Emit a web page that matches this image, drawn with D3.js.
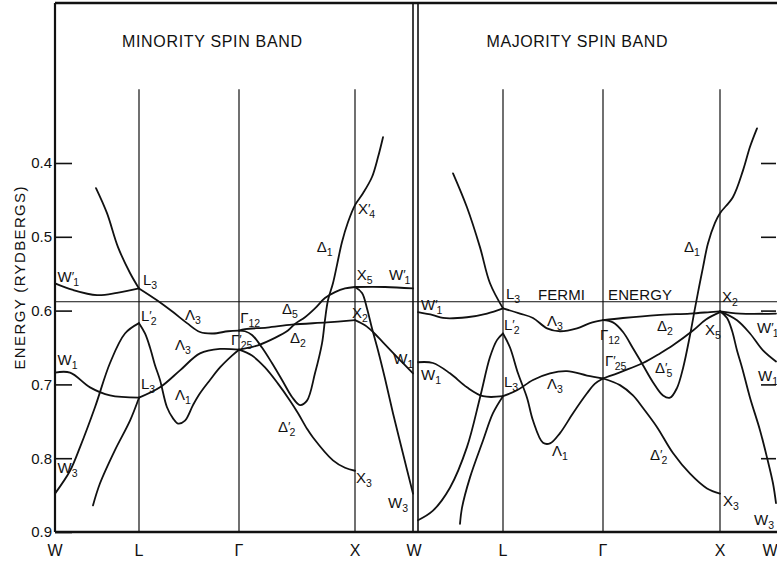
<!DOCTYPE html>
<html>
<head>
<meta charset="utf-8">
<script src="https://cdn.jsdelivr.net/npm/d3@7"></script>
<style>
  html, body { margin: 0; padding: 0; background: #fff; }
  svg { display: block; font-family: "Liberation Sans", Arial, sans-serif; }
</style>
</head>
<body>
<script>
// ---- data -------------------------------------------------------------
// k-path coordinate: 0 = W, 1 = L, 2 = Γ, 3 = X, 4 = W
const kTicks = [0, 1, 2, 3, 4];
const kLabels = ["W", "L", "Γ", "X", "W"];
const energyTicks = [0.4, 0.5, 0.6, 0.7, 0.8, 0.9];
const fermiEnergy = 0.588;
const panelTitles = ["MINORITY SPIN BAND", "MAJORITY SPIN BAND"];

// Minority spin band pieces: [k, energy (Ry)]
const minorityBands = [
  [[0.488,0.434],[0.619,0.468],[0.750,0.514],[0.893,0.549],[1,0.570]],
  [[0,0.563],[0.214,0.572],[0.5,0.579],[0.738,0.576],[1,0.570]],
  [[1,0.570],[1.18,0.586],[1.34,0.602],[1.48,0.617],[1.61,0.629],[1.74,0.631],[1.89,0.628],[2,0.627]],
  [[2,0.627],[2.052,0.625],[2.241,0.623],[2.457,0.619],[2.759,0.616],[3,0.613]],
  [[3,0.613],[3.172,0.620],[3.31,0.629],[3.483,0.643],[3.776,0.667],[4,0.685]],
  [[2,0.627],[2.052,0.628],[2.112,0.633],[2.198,0.650],[2.284,0.671],[2.371,0.694],[2.457,0.717],[2.526,0.728],[2.586,0.722],[2.655,0.685],[2.716,0.644],[2.741,0.613],[2.767,0.586],[2.81,0.563],[2.845,0.538],[2.888,0.507],[2.94,0.480],[3,0.457],[3.138,0.441],[3.293,0.419],[3.397,0.392],[3.483,0.365]],
  [[2,0.653],[2.164,0.647],[2.31,0.637],[2.422,0.627],[2.483,0.618],[2.569,0.609],[2.655,0.597],[2.741,0.583],[2.828,0.575],[2.914,0.570],[3,0.568]],
  [[3,0.568],[3.517,0.568],[4,0.570]],
  [[3,0.568],[3.121,0.576],[3.207,0.597],[3.293,0.624],[3.397,0.654],[3.517,0.692],[3.655,0.739],[3.828,0.794],[4,0.848]],
  [[2,0.653],[2.112,0.661],[2.224,0.677],[2.336,0.699],[2.440,0.722],[2.509,0.739],[2.586,0.760],[2.638,0.772],[2.81,0.803],[2.914,0.813],[3,0.817]],
  [[0,0.684],[0.179,0.684],[0.417,0.704],[0.655,0.715],[1,0.718]],
  [[1,0.718],[1.21,0.704],[1.41,0.681],[1.61,0.658],[1.81,0.652],[2,0.653]],
  [[0,0.848],[0.179,0.817],[0.298,0.785],[0.476,0.731],[0.655,0.671],[0.833,0.631],[1,0.617]],
  [[1,0.617],[1.06,0.631],[1.11,0.650],[1.16,0.674],[1.21,0.694],[1.28,0.731],[1.34,0.746],[1.39,0.753],[1.46,0.749],[1.54,0.728],[1.61,0.712],[1.71,0.694],[1.81,0.677],[1.93,0.661],[2,0.653]],
  [[0.452,0.864],[0.536,0.834],[0.714,0.789],[0.893,0.749],[1,0.718]]
];

// Majority spin band pieces: [k, energy (Ry)]
const majorityBands = [
  [[0.412,0.414],[0.576,0.460],[0.729,0.514],[0.847,0.563],[1,0.597]],
  [[0,0.602],[0.176,0.606],[0.294,0.610],[0.576,0.609],[0.812,0.604],[1,0.597]],
  [[1,0.597],[1.17,0.604],[1.30,0.610],[1.44,0.624],[1.57,0.628],[1.74,0.624],[1.87,0.617],[2,0.613]],
  [[2,0.613],[2.171,0.610],[2.462,0.606],[2.744,0.604],[2.915,0.602],[3,0.601]],
  [[3,0.601],[3.357,0.604],[4,0.604]],
  [[3,0.601],[3.304,0.613],[3.536,0.631],[3.768,0.654],[4,0.669]],
  [[3,0.601],[3.125,0.610],[3.214,0.627],[3.304,0.654],[3.393,0.677],[3.536,0.718],[3.714,0.762],[3.839,0.799],[3.946,0.834],[4,0.861]],
  [[2,0.613],[2.085,0.616],[2.171,0.629],[2.256,0.651],[2.342,0.674],[2.427,0.697],[2.513,0.715],[2.573,0.718],[2.632,0.705],[2.684,0.678],[2.744,0.633],[2.786,0.597],[2.821,0.568],[2.855,0.541],[2.897,0.509],[2.957,0.481],[3,0.468],[3.232,0.446],[3.411,0.410],[3.536,0.378],[3.661,0.353]],
  [[2,0.692],[2.171,0.682],[2.342,0.671],[2.487,0.658],[2.598,0.647],[2.769,0.627],[2.88,0.612],[3,0.602]],
  [[2,0.692],[2.145,0.701],[2.256,0.715],[2.342,0.732],[2.462,0.758],[2.598,0.793],[2.744,0.821],[2.889,0.841],[3,0.848]],
  [[0,0.670],[0.176,0.671],[0.376,0.685],[0.576,0.704],[0.765,0.716],[1,0.716]],
  [[1,0.716],[1.14,0.708],[1.30,0.694],[1.47,0.685],[1.64,0.682],[1.84,0.688],[2,0.692]],
  [[0,0.884],[0.176,0.871],[0.376,0.840],[0.576,0.785],[0.729,0.718],[0.847,0.663],[0.929,0.640],[1,0.631]],
  [[1,0.631],[1.07,0.650],[1.15,0.685],[1.24,0.718],[1.30,0.749],[1.40,0.779],[1.47,0.780],[1.57,0.766],[1.70,0.739],[1.84,0.712],[1.92,0.699],[2,0.692]],
  [[0.494,0.889],[0.518,0.867],[0.612,0.826],[0.765,0.776],[0.882,0.739],[1,0.716]]
];

// State labels: [k, energy, symbol, subscript, primed]
const minorityLabels = [
  [0.03,0.5615,"W","1",true],[1.04,0.5655,"L","3",false],[1.02,0.614,"L","2",true],
  [1.46,0.613,"Λ","3",false],[2.01,0.617,"Γ","12",false],[1.36,0.654,"Λ","3",false],
  [1.92,0.647,"Γ","25",true],[0.03,0.674,"W","1",false],[1.02,0.7067,"L","3",false],
  [1.36,0.7216,"Λ","1",false],[0.03,0.8206,"W","3",false],[2.371,0.605,"Δ","5",false],
  [2.974,0.610,"X","2",false],[2.44,0.644,"Δ","2",false],[3.66,0.673,"W","1",false],
  [2.336,0.764,"Δ","2",true],[3.017,0.833,"X","3",false],[3.569,0.868,"W","3",false],
  [3.05,0.469,"X","4",true],[2.67,0.521,"Δ","1",false],[3.03,0.559,"X","5",false],
  [3.586,0.559,"W","1",true]
];
const majorityLabels = [
  [0.035,0.5995,"W","1",true],[1.03,0.5845,"L","3",false],[1.01,0.6266,"L","2",true],
  [1.44,0.621,"Λ","3",false],[0.035,0.6945,"W","1",false],[1.01,0.704,"L","3",false],
  [1.44,0.7067,"Λ","3",false],[1.49,0.7976,"Λ","1",false],[1.97,0.640,"Γ","12",false],
  [2.462,0.627,"Δ","2",false],[2.872,0.633,"X","5",false],[3.036,0.5886,"X","2",false],
  [3.661,0.631,"W","1",true],[2.017,0.6755,"Γ","25",true],[2.444,0.685,"Δ","5",true],
  [3.68,0.696,"W","1",false],[2.402,0.803,"Δ","2",true],[3.054,0.865,"X","3",false],
  [3.607,0.891,"W","3",false],[2.692,0.521,"Δ","1",false]
];
const fermiLabel = [1.35, 0.5859, "FERMI", "ENERGY"];

// ---- layout -----------------------------------------------------------
const W = 777, H = 566;
const svg = d3.select("body").append("svg").attr("width", W).attr("height", H);
const ink = "#111";

const y = d3.scaleLinear().domain([0.4, 0.9]).range([163, 532]);
const xLeft = d3.scaleLinear().domain(kTicks).range([55, 139, 239, 355, 413]);
const xRight = d3.scaleLinear().domain(kTicks).range([418, 503, 603, 720, 776]);

const panels = [
  { x: xLeft, bands: minorityBands, labels: minorityLabels, title: panelTitles[0], titleW: 180, shift: -22 },
  { x: xRight, bands: majorityBands, labels: majorityLabels, title: panelTitles[1], titleW: 181, shift: -20 }
];

// frame
const topY = 3;
svg.append("line").attr("x1", 55).attr("x2", W).attr("y1", topY).attr("y2", topY)
  .attr("stroke", ink).attr("stroke-width", 2.5);
svg.append("line").attr("x1", 55).attr("x2", W).attr("y1", y(0.9)).attr("y2", y(0.9))
  .attr("stroke", ink).attr("stroke-width", 2.5);
[xLeft(0), xLeft(4), xRight(0)].forEach(px => {
  svg.append("line").attr("x1", px).attr("x2", px).attr("y1", topY).attr("y2", y(0.9))
    .attr("stroke", ink).attr("stroke-width", px === xLeft(0) ? 2.2 : 1.6);
});

// left energy axis
const yAxis = d3.axisLeft(y).tickValues(energyTicks).tickSize(-17).tickPadding(3)
  .tickFormat(d3.format(".1f"));
const ga = svg.append("g").attr("transform", `translate(${xLeft(0)},0)`).call(yAxis);
ga.select(".domain").remove();
ga.selectAll(".tick line").attr("stroke", ink).attr("stroke-width", 1.6);
ga.selectAll(".tick text").attr("fill", ink).attr("font-size", 15)
  .attr("font-family", "Liberation Sans, Arial, sans-serif");

// right ticks
const yAxisR = d3.axisRight(y).tickValues(energyTicks.slice(0, 5)).tickSize(-15).tickFormat("");
const gr = svg.append("g").attr("transform", `translate(${xRight(4)},0)`).call(yAxisR);
gr.select(".domain").remove();
gr.selectAll(".tick line").attr("stroke", ink).attr("stroke-width", 1.6);

// axis title
svg.append("text").attr("transform", "translate(25,278) rotate(-90)")
  .attr("text-anchor", "middle").attr("font-size", 15).attr("fill", ink)
  .attr("textLength", 183).attr("lengthAdjust", "spacing")
  .text("ENERGY (RYDBERGS)");

// Fermi level
svg.append("line").attr("x1", xLeft(0)).attr("x2", W)
  .attr("y1", y(fermiEnergy)).attr("y2", y(fermiEnergy))
  .attr("stroke", ink).attr("stroke-width", 1);

const line = d3.line().curve(d3.curveCatmullRom.alpha(0.5));

function drawLabel(g, px, py, base, sub, primed) {
  const t = g.append("text").attr("x", px).attr("y", py).attr("font-size", 15).attr("fill", ink);
  t.append("tspan").text(base);
  if (primed) t.append("tspan").attr("font-size", 13).attr("dy", -1).text("′");
  if (sub) t.append("tspan").attr("font-size", 10.5).attr("dx", primed ? -1 : 0)
    .attr("dy", primed ? 5 : 4).text(sub);
}

panels.forEach((p, pi) => {
  const g = svg.append("g");
  // symmetry lines
  [1, 2, 3].forEach(k => {
    g.append("line").attr("x1", p.x(k)).attr("x2", p.x(k))
      .attr("y1", y(0.3)).attr("y2", y(0.9))
      .attr("stroke", ink).attr("stroke-width", 1.2);
  });
  // title
  const cx = (p.x(0) + p.x(4)) / 2 + p.shift;
  g.append("text").attr("x", cx).attr("y", 47).attr("text-anchor", "middle")
    .attr("font-size", 16).attr("fill", ink)
    .attr("textLength", p.titleW).attr("lengthAdjust", "spacing").text(p.title);
  // k labels
  kTicks.forEach((k, i) => {
    if (pi === 1 && i === 0) return;
    let px = p.x(k);
    if (pi === 0 && i === 4) px += 1;
    if (pi === 1 && i === 4) px -= 6;
    g.append("text").attr("x", px).attr("y", 556)
      .attr("text-anchor", "middle").attr("font-size", 16).attr("fill", ink).text(kLabels[i]);
  });
  // bands
  p.bands.forEach(b => {
    g.append("path").attr("d", line(b.map(d => [p.x(d[0]), y(d[1])])))
      .attr("fill", "none").attr("stroke", ink).attr("stroke-width", 1.8)
      .attr("stroke-linejoin", "round").attr("stroke-linecap", "round");
  });
  // state labels
  p.labels.forEach(l => drawLabel(g, p.x(l[0]), y(l[1]), l[2], l[3], l[4]));
});

// Fermi label
svg.append("text").attr("x", xRight(fermiLabel[0])).attr("y", y(fermiLabel[1]))
  .attr("font-size", 15).attr("fill", ink).attr("textLength", 47).attr("lengthAdjust", "spacing")
  .text(fermiLabel[2]);
svg.append("text").attr("x", xRight(2) + 5).attr("y", y(fermiLabel[1]))
  .attr("font-size", 15).attr("fill", ink).attr("textLength", 64).attr("lengthAdjust", "spacing")
  .text(fermiLabel[3]);
</script>
</body>
</html>
